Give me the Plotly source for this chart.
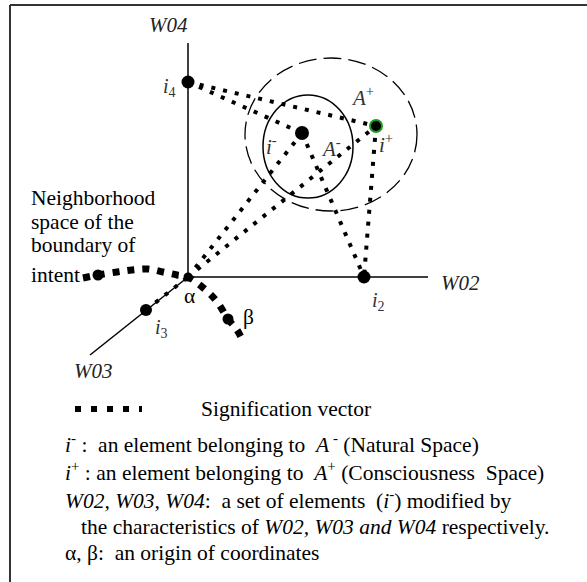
import plotly.graph_objects as go

# ---- diagram geometry (pixel-like coordinates, y grows downward) ----
POINT_NAMES = ["alpha", "i4", "i2", "i3", "beta", "i_minus", "i_plus", "nb"]
POINT_X = [188, 188, 364, 146, 228, 302, 376, 98]
POINT_Y = [277, 82, 277, 310, 319, 133, 126, 275]
POINT_SIZE = [9, 13, 13, 12, 11, 14, 12, 11]

AXIS_NAMES = ["W02", "W03", "W04"]
AXIS_END_X = [428, 90, 188]
AXIS_END_Y = [277, 355, 43]

VECTOR_FROM = ["i4", "i4", "alpha", "alpha", "i_minus", "i_plus", "i3"]
VECTOR_TO = ["i_plus", "i_minus", "i_minus", "i_plus", "i2", "i2", "alpha"]

CURVE_X = [83, 98, 117, 132, 148, 163, 177, 188, 208, 218, 228, 237, 244]
CURVE_Y = [278, 275, 272, 270, 269, 272, 275, 277, 292, 303, 319, 330, 343]

A_MINUS_BOX = [263, 95, 353, 198]
A_PLUS_BOX = [245, 58, 417, 211]

LEGEND_SAMPLE_X = [75, 142]
LEGEND_SAMPLE_Y = [409, 409]

FONT = "Liberation Serif, Times New Roman, serif"
BODY = 21.5
LBL = 21

P = {n: (x, y) for n, x, y in zip(POINT_NAMES, POINT_X, POINT_Y)}

fig = go.Figure()

# axes
ox, oy = P["alpha"]
for name, ex, ey in zip(AXIS_NAMES, AXIS_END_X, AXIS_END_Y):
    fig.add_trace(go.Scatter(x=[ox, ex], y=[oy, ey], mode="lines",
                             line=dict(color="black", width=1.5),
                             hoverinfo="skip", showlegend=False))

# signification vectors (small dotted)
for a, b in zip(VECTOR_FROM, VECTOR_TO):
    xa, ya = P[a]
    xb, yb = P[b]
    fig.add_trace(go.Scatter(x=[xa, xb], y=[ya, yb], mode="lines",
                             line=dict(color="black", width=4, dash="4px,8px"),
                             hoverinfo="skip", showlegend=False))

# neighborhood curve (thick dashes)
fig.add_trace(go.Scatter(x=CURVE_X, y=CURVE_Y, mode="lines",
                         line=dict(color="black", width=7, dash="7px,8px", shape="spline"),
                         hoverinfo="skip", showlegend=False))

# legend sample
fig.add_trace(go.Scatter(x=LEGEND_SAMPLE_X, y=LEGEND_SAMPLE_Y, mode="lines",
                         line=dict(color="black", width=6, dash="6px,10px"),
                         hoverinfo="skip", showlegend=False))

# points
line_colors = ["black"] * len(POINT_NAMES)
line_colors[POINT_NAMES.index("i_plus")] = "#1f9a1f"
line_widths = [0] * len(POINT_NAMES)
line_widths[POINT_NAMES.index("i_plus")] = 2
fig.add_trace(go.Scatter(x=POINT_X, y=POINT_Y, mode="markers",
                         marker=dict(color="black", size=POINT_SIZE, opacity=1,
                                     line=dict(color=line_colors, width=line_widths)),
                         hoverinfo="skip", showlegend=False))

shapes = [
    dict(type="circle", xref="x", yref="y", x0=A_MINUS_BOX[0], y0=A_MINUS_BOX[1],
         x1=A_MINUS_BOX[2], y1=A_MINUS_BOX[3], line=dict(color="black", width=1.5)),
    dict(type="circle", xref="x", yref="y", x0=A_PLUS_BOX[0], y0=A_PLUS_BOX[1],
         x1=A_PLUS_BOX[2], y1=A_PLUS_BOX[3], line=dict(color="black", width=1.3, dash="18px,7px")),
    dict(type="line", xref="x", yref="y", x0=10, y0=5, x1=587, y1=5,
         line=dict(color="#333", width=2)),
    dict(type="line", xref="x", yref="y", x0=10, y0=5, x1=10, y1=582,
         line=dict(color="#333", width=2)),
]

def ann(text, x, y, xanchor="center", size=BODY, color="black"):
    return dict(text=text, x=x, y=y, xref="x", yref="y", showarrow=False,
                xanchor=xanchor, yanchor="middle", borderpad=0,
                font=dict(family=FONT, size=size, color=color))

S = "\u00a0"
annotations = [
    ann("<i>W04</i>", 168, 25, size=LBL, color="#222"),
    ann("<i>W02</i>", 460, 283, size=LBL, color="#222"),
    ann("<i>W03</i>", 93, 371, size=LBL, color="#222"),
    ann("<i>i</i><sub>4</sub>", 169, 87, size=20, color="#333"),
    ann("<i>i</i><sub>2</sub>", 378, 301, size=20, color="#333"),
    ann("<i>i</i><sub>3</sub>", 161, 328, size=20, color="#333"),
    ann("α", 189, 296),
    ann("β", 248, 317),
    ann("<i>i</i><sup>-</sup>", 271, 145, size=LBL, color="#333"),
    ann("<i>A</i><sup>-</sup>", 331, 147, size=LBL, color="#333"),
    ann("<i>A</i><sup>+</sup>", 362, 96, size=LBL, color="#333"),
    ann("<i>i</i><sup>+</sup>", 386, 143, size=LBL, color="#333"),
    ann("Neighborhood", 30, 198, xanchor="left"),
    ann("space of the", 30, 222, xanchor="left"),
    ann("boundary of", 30, 245, xanchor="left"),
    ann("intent", 30, 275, xanchor="left"),
    ann("Signification vector", 200, 409, xanchor="left"),
    ann(f"<i>i</i><sup>-</sup> :{S} an element belonging to {S}<i>A</i><sup> -</sup> (Natural Space)", 64, 443, xanchor="left"),
    ann(f"<i>i</i><sup>+</sup> : an element belonging to {S}<i>A</i><sup>+</sup> (Consciousness {S}Space)", 64, 471, xanchor="left"),
    ann(f"<i>W02, W03, W04</i>:{S} a set of elements {S}(<i>i</i><sup>-</sup>) modified by", 64, 499, xanchor="left"),
    ann("the characteristics of <i>W02, W03 and W04</i> respectively.", 80, 527, xanchor="left"),
    ann(f"α, β:{S} an origin of coordinates", 64, 553, xanchor="left"),
]

fig.update_layout(
    width=587, height=582, autosize=False,
    margin=dict(l=0, r=0, t=0, b=0),
    paper_bgcolor="white", plot_bgcolor="white",
    xaxis=dict(range=[0, 587], visible=False, fixedrange=True),
    yaxis=dict(range=[582, 0], visible=False, fixedrange=True),
    shapes=shapes, annotations=annotations,
)

fig.write_html("out.html", config={"displayModeBar": False},
               post_script="document.body.style.margin='0';document.body.style.padding='0';")
